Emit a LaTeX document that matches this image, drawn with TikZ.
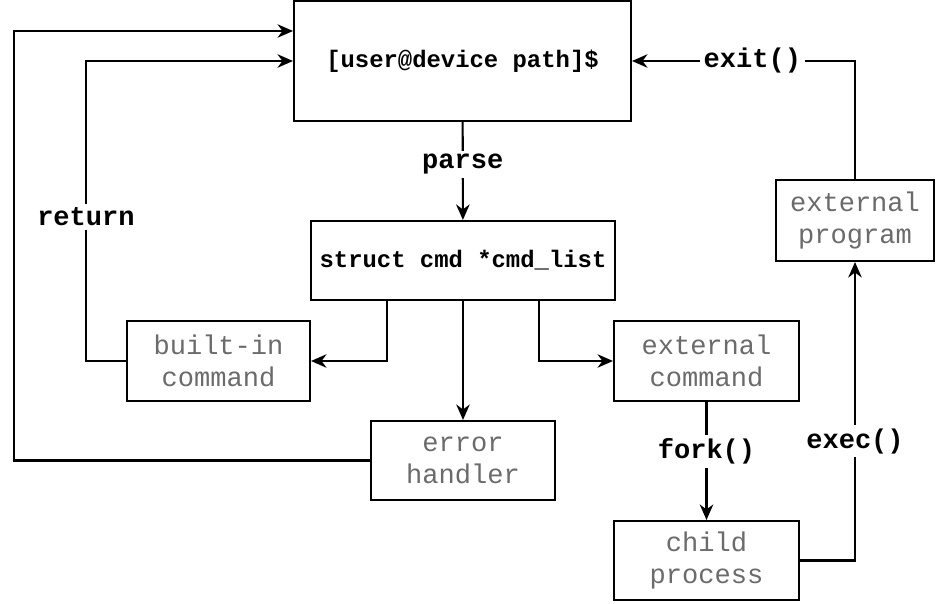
\documentclass[tikz,border=0pt]{standalone}
\usepackage{fontspec}
\setmonofont{Liberation Mono}
\usepackage{tikz}
\usetikzlibrary{arrows.meta,positioning}

\begin{document}
\begin{tikzpicture}[
  x=0.02cm, y=-0.02cm,
  box/.style={
    rectangle, draw=black, line width=1.2pt, fill=white,
    align=center, inner sep=2pt
  },
  code/.style={
    box, font=\ttfamily\bfseries\fontsize{13.6}{16}\selectfont
  },
  proc/.style={
    box, text=black!58, font=\ttfamily\fontsize{15.4}{18.1}\selectfont
  },
  arr/.style={-{Stealth[length=3.1mm, width=2.7mm, inset=1mm]}, line width=1.2pt, black},
  lbl/.style={font=\ttfamily\bfseries\fontsize{15.4}{18}\selectfont, fill=white, inner sep=2pt}
]
\useasboundingbox (0,0) rectangle (936,604);

% ---- Boxes ----
\node[code, minimum width=6.74cm, minimum height=2.4cm]  (prompt)  at (462.5, 61)   {[user@device path]\$};
\node[code, minimum width=6.08cm, minimum height=1.58cm] (cmd)     at (463, 260.5)  {struct cmd *cmd\_list};

\node[proc, minimum width=3.66cm, minimum height=1.6cm]  (builtin) at (218.5, 361)  {built-in\\command};
\node[proc, minimum width=3.68cm, minimum height=1.58cm] (err)     at (463, 460.5)  {error\\handler};
\node[proc, minimum width=3.7cm, minimum height=1.6cm]   (extcmd)  at (706.5, 361)  {external\\command};
\node[proc, minimum width=3.7cm, minimum height=1.58cm]  (child)   at (706.5, 560.5){child\\process};
\node[proc, minimum width=3.16cm, minimum height=1.62cm] (extprog) at (855, 220.5)  {external\\program};

% ---- Arrows ----
\draw[arr] (prompt) -- node[lbl, pos=0.43]{parse} (cmd);
\draw[arr] ([xshift=-1.52cm]cmd.south) |- (builtin.east);
\draw[arr] (cmd) -- (err);
\draw[arr] ([xshift=1.52cm]cmd.south) |- (extcmd.west);

\draw[arr] (builtin.west) -- ++(-40,0) |- node[lbl, pos=0.24]{return} (prompt.west);
\draw[arr] (err.west) -- ++(-356,0) |- ([yshift=0.6cm]prompt.west);

\draw[arr] (extcmd) -- node[lbl, pos=0.42]{fork()} (child);
\draw[arr] (child.east) -| node[lbl, pos=0.7]{exec()} (extprog.south);
\draw[arr] (extprog.north) |- node[lbl, pos=0.73]{exit()} (prompt.east);

\end{tikzpicture}
\end{document}
